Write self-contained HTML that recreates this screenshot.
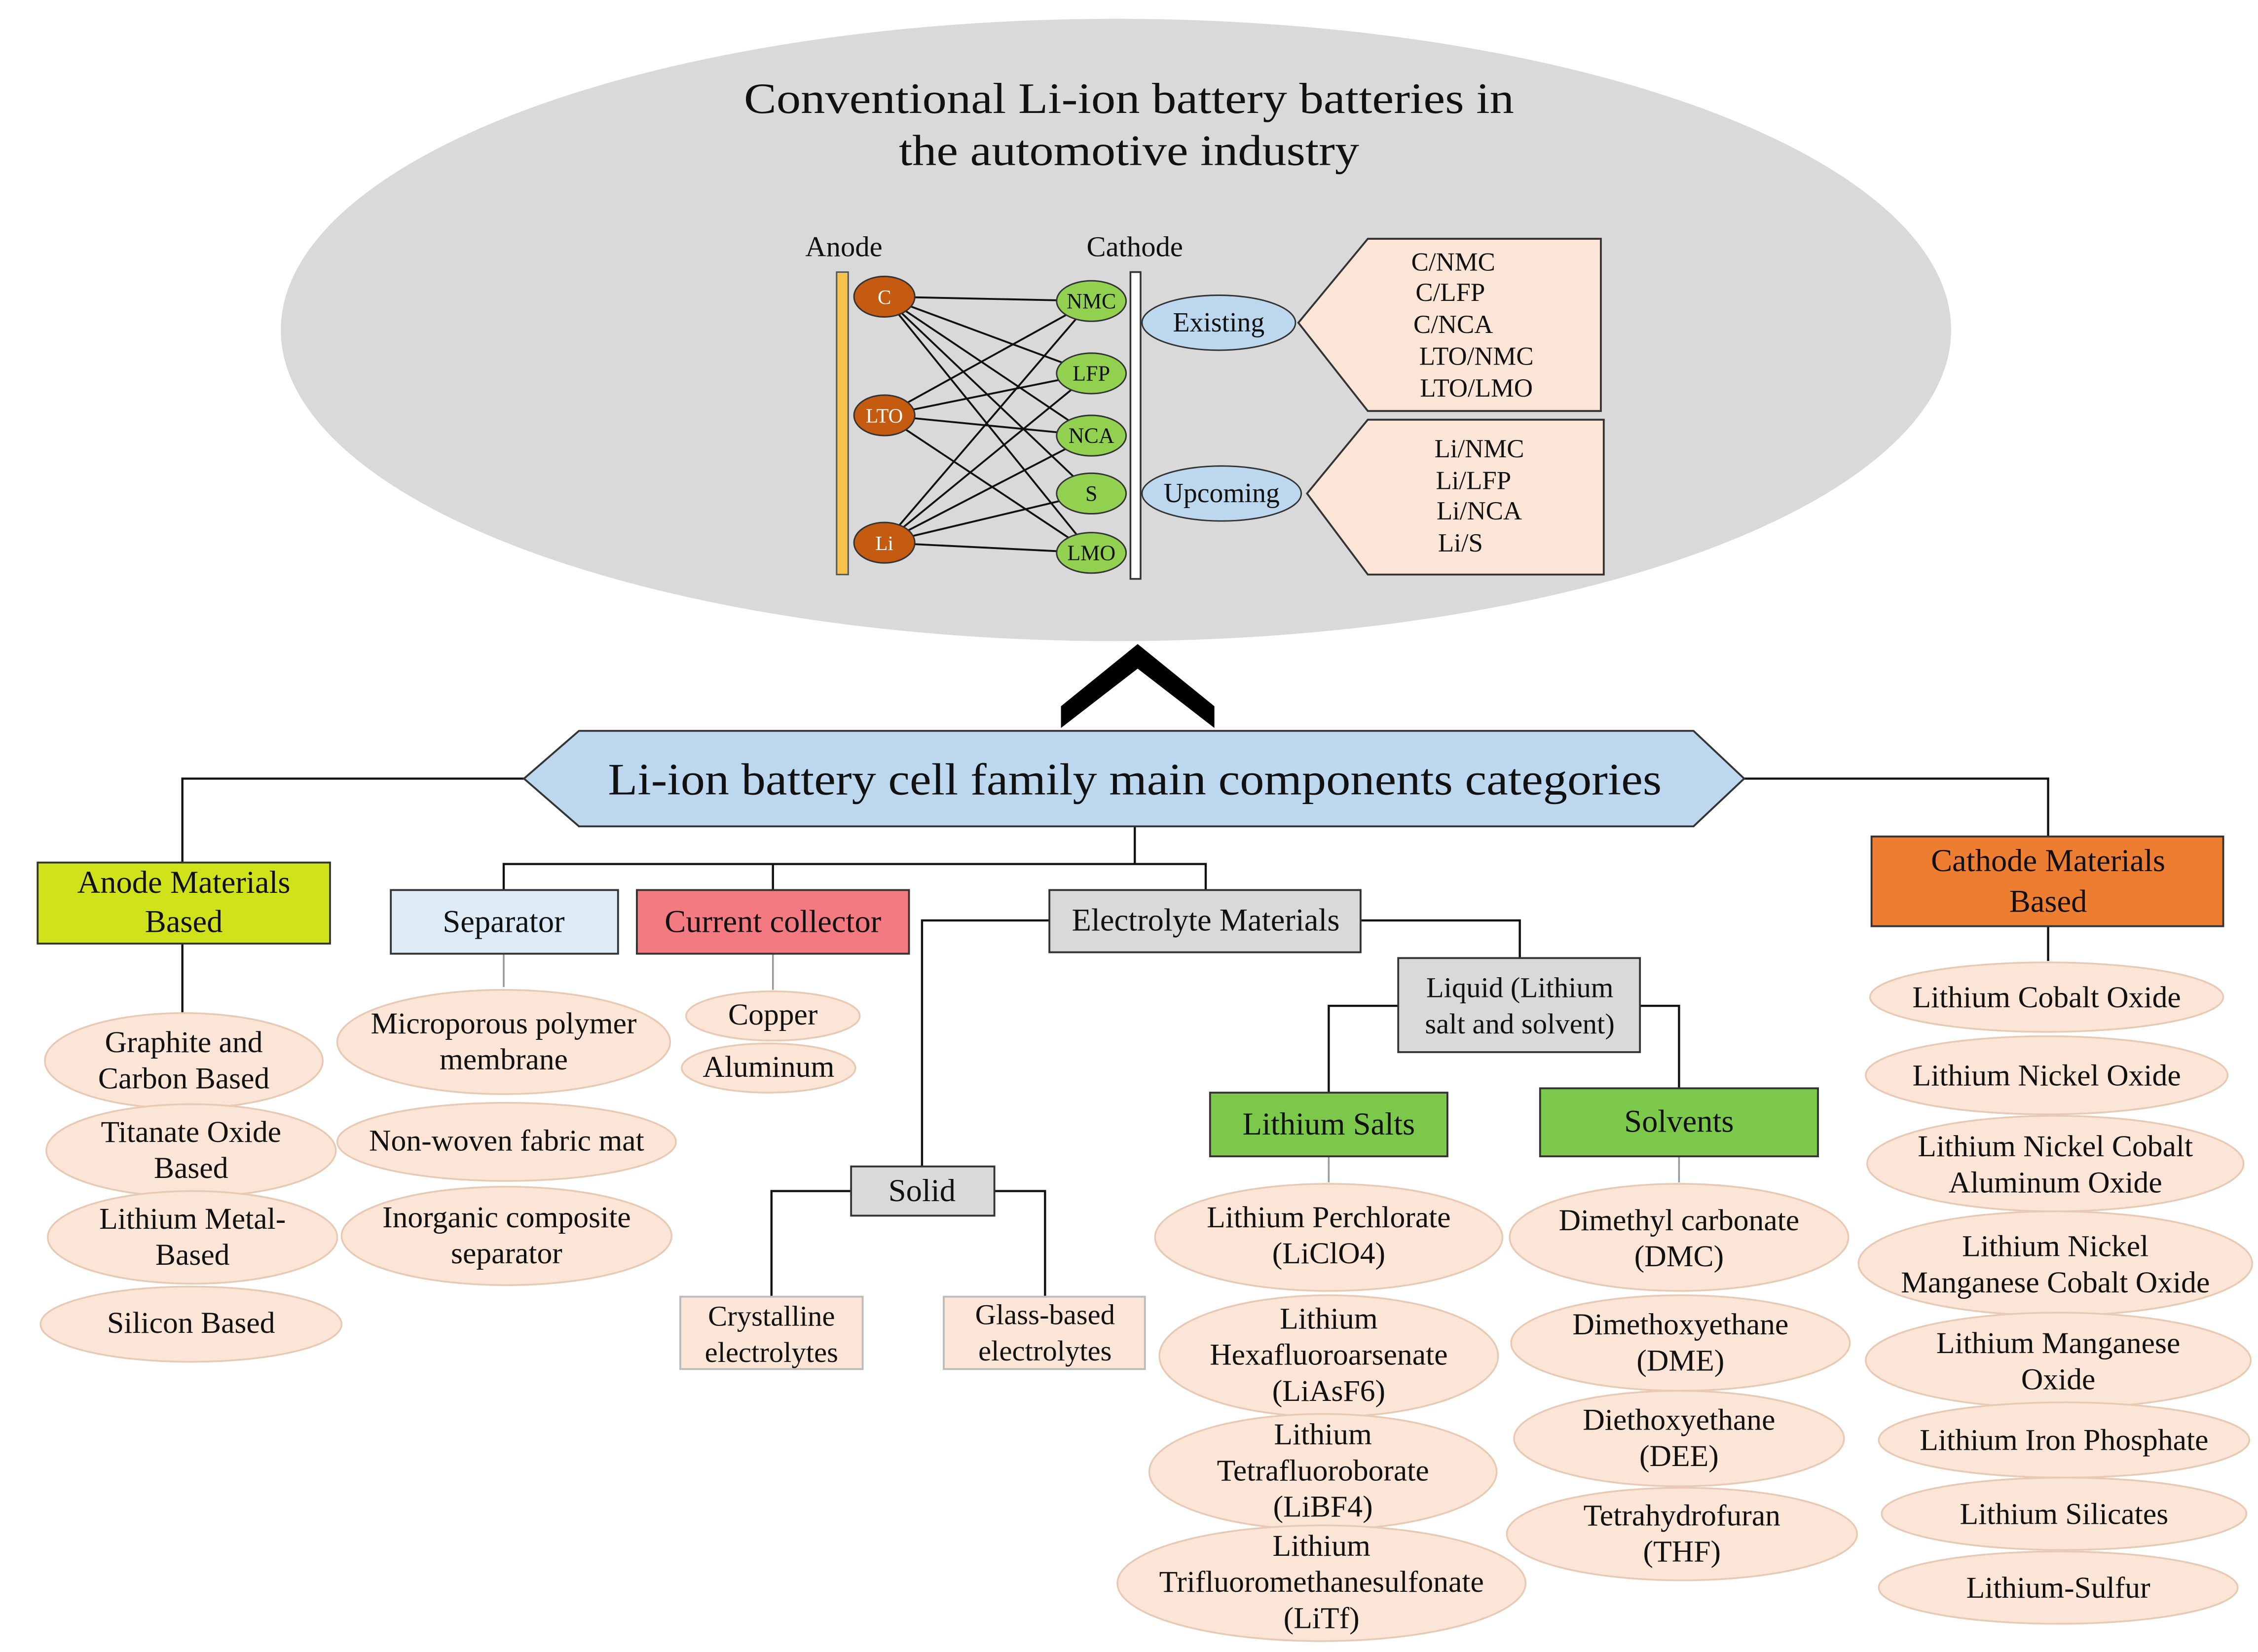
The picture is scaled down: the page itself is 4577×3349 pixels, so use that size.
<!DOCTYPE html>
<html><head><meta charset="utf-8"><style>
html,body{margin:0;padding:0;background:#fff}
svg{display:block}
.s{font-family:"Liberation Serif",serif;fill:#111}
.a{font-family:"Liberation Serif",serif;fill:#111}
</style></head><body>
<svg width="4577" height="3349" viewBox="0 0 1560 1141.5" preserveAspectRatio="none" xmlns="http://www.w3.org/2000/svg">
<rect width="1560" height="1142" fill="#fff"/>
<ellipse cx="771" cy="228" rx="577" ry="215" fill="#d9d9d9"/>
<text class="s" x="780" y="78" font-size="30" text-anchor="middle" textLength="532" lengthAdjust="spacingAndGlyphs">Conventional Li-ion battery batteries in</text>
<text class="s" x="780" y="114" font-size="30" text-anchor="middle" textLength="318" lengthAdjust="spacingAndGlyphs">the automotive industry</text>
<text class="s" x="583" y="177" font-size="20" text-anchor="middle">Anode</text>
<text class="s" x="784" y="177" font-size="20" text-anchor="middle">Cathode</text>
<rect x="578" y="188" width="8" height="209" fill="#f5c24a" stroke="#555" stroke-width="1"/>
<rect x="781" y="188" width="7" height="212" fill="#fff" stroke="#333" stroke-width="1.2"/>
<g stroke="#111" stroke-width="1.3">
<line x1="611" y1="205" x2="754" y2="208"/><line x1="611" y1="205" x2="754" y2="258"/><line x1="611" y1="205" x2="754" y2="301"/><line x1="611" y1="205" x2="754" y2="341"/><line x1="611" y1="205" x2="754" y2="382"/>
<line x1="611" y1="287" x2="754" y2="208"/><line x1="611" y1="287" x2="754" y2="258"/><line x1="611" y1="287" x2="754" y2="301"/><line x1="611" y1="287" x2="754" y2="382"/>
<line x1="611" y1="375" x2="754" y2="208"/><line x1="611" y1="375" x2="754" y2="258"/><line x1="611" y1="375" x2="754" y2="301"/><line x1="611" y1="375" x2="754" y2="341"/><line x1="611" y1="375" x2="754" y2="382"/>
</g>
<g fill="#c55a11" stroke="#333" stroke-width="1">
<ellipse cx="611" cy="205" rx="21" ry="14"/><ellipse cx="611" cy="287" rx="21" ry="14"/><ellipse cx="611" cy="375" rx="21" ry="14"/>
</g>
<g class="s" font-size="14" text-anchor="middle">
<text x="611" y="210" fill="#fff">C</text><text x="611" y="292" fill="#fff">LTO</text><text x="611" y="380" fill="#fff">Li</text>
</g>
<g fill="#92d050" stroke="#333" stroke-width="1">
<ellipse cx="754" cy="208" rx="24" ry="14"/><ellipse cx="754" cy="258" rx="24" ry="14"/><ellipse cx="754" cy="301" rx="24" ry="14"/><ellipse cx="754" cy="341" rx="24" ry="14"/><ellipse cx="754" cy="382" rx="24" ry="14"/>
</g>
<g class="s" font-size="15" text-anchor="middle">
<text x="754" y="213">NMC</text><text x="754" y="263">LFP</text><text x="754" y="306">NCA</text><text x="754" y="346">S</text><text x="754" y="387">LMO</text>
</g>
<ellipse cx="842" cy="223" rx="53" ry="19" fill="#bdd7ee" stroke="#333"/>
<ellipse cx="844" cy="341" rx="55" ry="19" fill="#bdd7ee" stroke="#333"/>
<text class="s" x="842" y="229" font-size="19" text-anchor="middle">Existing</text>
<text class="s" x="844" y="347" font-size="19" text-anchor="middle">Upcoming</text>
<polygon points="897,223 945,165 1106,165 1106,284 945,284" fill="#fbe5d6" stroke="#333" stroke-width="1.3"/>
<polygon points="903,341 945,290 1108,290 1108,397 945,397" fill="#fbe5d6" stroke="#333" stroke-width="1.3"/>
<g class="s" font-size="18" text-anchor="middle">
<text x="1004" y="187">C/NMC</text><text x="1002" y="208">C/LFP</text><text x="1004" y="230">C/NCA</text><text x="1020" y="252">LTO/NMC</text><text x="1020" y="274">LTO/LMO</text>
<text x="1022" y="316">Li/NMC</text><text x="1018" y="338">Li/LFP</text><text x="1022" y="359">Li/NCA</text><text x="1009" y="381">Li/S</text>
</g>
<polygon points="733,488 786,445 839,488 839,503 786,462 733,503" fill="#000"/>
<g stroke="#111" stroke-width="1.5" fill="none">
<polyline points="362,538 126,538 126,596"/>
<polyline points="1205,538 1415,538 1415,578"/>
<polyline points="784,571 784,597"/>
<polyline points="348,615 348,597 833,597 833,615"/>
<line x1="534" y1="597" x2="534" y2="615"/>
<line x1="126" y1="652" x2="126" y2="700"/>
<line x1="1415" y1="640" x2="1415" y2="664"/>
<polyline points="725,636 637,636 637,806"/>
<polyline points="588,823 533,823 533,896"/>
<polyline points="687,823 722,823 722,896"/>
<polyline points="940,636 1050,636 1050,662"/>
<polyline points="966,695 918,695 918,755"/>
<polyline points="1133,695 1160,695 1160,752"/>
</g>
<g stroke="#999" stroke-width="1.2"><line x1="348" y1="659" x2="348" y2="682"/><line x1="534" y1="659" x2="534" y2="684"/><line x1="918" y1="799" x2="918" y2="817"/><line x1="1160" y1="799" x2="1160" y2="817"/></g>
<polygon points="362,538 400,505 1170,505 1205,538 1170,571 400,571" fill="#bdd7ee" stroke="#333" stroke-width="1.3"/>
<text class="s" x="784" y="549" font-size="31" text-anchor="middle" textLength="728" lengthAdjust="spacingAndGlyphs">Li-ion battery cell family main components categories</text>
<g stroke="#333" stroke-width="1.3">
<rect x="26" y="596" width="202" height="56" fill="#cfe21a"/>
<rect x="270" y="615" width="157" height="44" fill="#ddebf7"/>
<rect x="440" y="615" width="188" height="44" fill="#f47a82"/>
<rect x="725" y="615" width="215" height="43" fill="#d9d9d9"/>
<rect x="1293" y="578" width="243" height="62" fill="#ed7d31"/>
<rect x="588" y="806" width="99" height="34" fill="#d9d9d9"/>
<rect x="966" y="662" width="167" height="65" fill="#d9d9d9"/>
<rect x="836" y="755" width="164" height="44" fill="#7cc84a"/>
<rect x="1064" y="752" width="192" height="47" fill="#7cc84a"/>
<rect x="470" y="896" width="126" height="50" fill="#fbe5d6" stroke="#bbb"/>
<rect x="652" y="896" width="139" height="50" fill="#fbe5d6" stroke="#bbb"/>
</g>
<g class="a" font-size="22" text-anchor="middle">
<text x="127" y="617">Anode Materials</text><text x="127" y="644">Based</text>
<text x="348" y="644">Separator</text>
<text x="534" y="644">Current collector</text>
<text x="833" y="643">Electrolyte Materials</text>
<text x="1415" y="602">Cathode Materials</text><text x="1415" y="630">Based</text>
<text x="637" y="830">Solid</text>
<text x="918" y="784">Lithium Salts</text>
<text x="1160" y="782">Solvents</text>
</g>
<g class="s" font-size="20" text-anchor="middle">
<text x="1050" y="689">Liquid (Lithium</text><text x="1050" y="714">salt and solvent)</text>
<text x="533" y="916">Crystalline</text><text x="533" y="941">electrolytes</text>
<text x="722" y="915">Glass-based</text><text x="722" y="940">electrolytes</text>
</g>
<g fill="#fbe5d6" stroke="#e8c9b3" stroke-width="1.2">
<ellipse cx="127" cy="733" rx="96" ry="33"/><ellipse cx="132" cy="795" rx="100" ry="32"/><ellipse cx="133" cy="855" rx="100" ry="32"/><ellipse cx="132" cy="915" rx="104" ry="26"/>
<ellipse cx="348" cy="720" rx="115" ry="36"/><ellipse cx="350" cy="789" rx="117" ry="27"/><ellipse cx="350" cy="854" rx="114" ry="34"/>
<ellipse cx="534" cy="702" rx="60" ry="17"/><ellipse cx="531" cy="738" rx="60" ry="17"/>
<ellipse cx="918" cy="855" rx="120" ry="37"/><ellipse cx="918" cy="937" rx="117" ry="42"/><ellipse cx="914" cy="1017" rx="120" ry="40"/><ellipse cx="913" cy="1094" rx="141" ry="40"/>
<ellipse cx="1160" cy="855" rx="117" ry="37"/><ellipse cx="1161" cy="928" rx="117" ry="33"/><ellipse cx="1160" cy="994" rx="114" ry="33"/><ellipse cx="1162" cy="1060" rx="121" ry="32"/>
<ellipse cx="1414" cy="689" rx="122" ry="24"/><ellipse cx="1414" cy="743" rx="125" ry="27"/><ellipse cx="1420" cy="804" rx="130" ry="33"/><ellipse cx="1420" cy="873" rx="136" ry="36"/><ellipse cx="1422" cy="940" rx="133" ry="33"/><ellipse cx="1426" cy="995" rx="128" ry="26"/><ellipse cx="1426" cy="1046" rx="126" ry="25"/><ellipse cx="1422" cy="1097" rx="124" ry="25"/>
</g>
<g class="s" font-size="21" text-anchor="middle">
<text x="127" y="727">Graphite and</text><text x="127" y="752">Carbon Based</text>
<text x="132" y="789">Titanate Oxide</text><text x="132" y="814">Based</text>
<text x="133" y="849">Lithium Metal-</text><text x="133" y="874">Based</text>
<text x="132" y="921">Silicon Based</text>
<text x="348" y="714">Microporous polymer</text><text x="348" y="739">membrane</text>
<text x="350" y="795">Non-woven fabric mat</text>
<text x="350" y="848">Inorganic composite</text><text x="350" y="873">separator</text>
<text x="534" y="708">Copper</text><text x="531" y="744">Aluminum</text>
<text x="918" y="848">Lithium Perchlorate</text><text x="918" y="873">(LiClO4)</text>
<text x="918" y="918">Lithium</text><text x="918" y="943">Hexafluoroarsenate</text><text x="918" y="968">(LiAsF6)</text>
<text x="914" y="998">Lithium</text><text x="914" y="1023">Tetrafluoroborate</text><text x="914" y="1048">(LiBF4)</text>
<text x="913" y="1075">Lithium</text><text x="913" y="1100">Trifluoromethanesulfonate</text><text x="913" y="1125">(LiTf)</text>
<text x="1160" y="850">Dimethyl  carbonate</text><text x="1160" y="875">(DMC)</text>
<text x="1161" y="922">Dimethoxyethane</text><text x="1161" y="947">(DME)</text>
<text x="1160" y="988">Diethoxyethane</text><text x="1160" y="1013">(DEE)</text>
<text x="1162" y="1054">Tetrahydrofuran</text><text x="1162" y="1079">(THF)</text>
<text x="1414" y="696">Lithium Cobalt Oxide</text>
<text x="1414" y="750">Lithium Nickel Oxide</text>
<text x="1420" y="799">Lithium Nickel Cobalt</text><text x="1420" y="824">Aluminum Oxide</text>
<text x="1420" y="868">Lithium Nickel</text><text x="1420" y="893">Manganese Cobalt Oxide</text>
<text x="1422" y="935">Lithium Manganese</text><text x="1422" y="960">Oxide</text>
<text x="1426" y="1002">Lithium Iron Phosphate</text>
<text x="1426" y="1053">Lithium Silicates</text>
<text x="1422" y="1104">Lithium-Sulfur</text>
</g>
</svg>
</body></html>
